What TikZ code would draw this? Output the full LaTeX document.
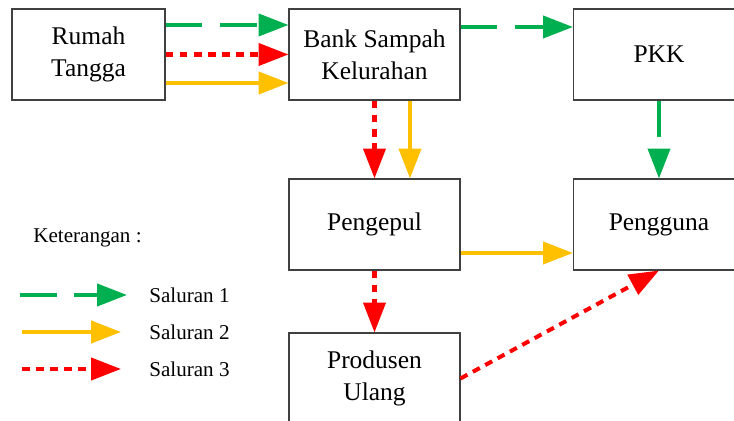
\documentclass[tikz,border=0pt]{standalone}
\usepackage{fontspec}
\setmainfont{Liberation Serif}
\usepackage{tikz}
\usetikzlibrary{arrows.meta}
\definecolor{jalur1}{RGB}{0,176,80}
\definecolor{jalur2}{RGB}{255,192,0}
\definecolor{jalur3}{RGB}{255,0,0}

\begin{document}
\begin{tikzpicture}[x=0.02cm, y=-0.02cm,
	kotak/.style={draw=black!75, line width=0.6pt, minimum width=3.42cm, minimum height=1.82cm, inner sep=0pt, align=center, font=\fontsize{14.5}{18}\selectfont},
	ket/.style={anchor=west, inner sep=0pt, font=\fontsize{12}{14}\selectfont},
	panah/.style={line width=2.3pt, -{Triangle[length=17pt,width=12.5pt]}},
	s1/.style={panah, jalur1, dash pattern=on 21pt off 10pt},
	s2/.style={panah, jalur2},
	s3/.style={panah, jalur3, dash pattern=on 4.5pt off 3.5pt}]
		\useasboundingbox (0,0) rectangle (734,421);
		\path (88.5,54.5) node[kotak, minimum width=3.06cm] (rt) {Rumah\\Tangga}
		(374.5,54.5) node[kotak] (bank) {Bank Sampah\\Kelurahan}
		(659,54.5) node[kotak] (pkk) {PKK}
		(374.5,224.5) node[kotak] (pengepul) {Pengepul}
		(659,224.5) node[kotak] (pengguna) {Pengguna}
		(374.5,378.5) node[kotak] (produsen) {Produsen\\Ulang};

		\draw[s1] ([yshift=0.59cm]rt.east) -- ([yshift=0.59cm]bank.west);
		\draw[s3] (rt.east) -- (bank.west);
		\draw[s2] ([yshift=-0.57cm]rt.east) -- ([yshift=-0.57cm]bank.west);
		\draw[s1] ([yshift=0.55cm]bank.east) -- ([yshift=0.55cm]pkk.west);
		\draw[s3] (bank.south) -- (pengepul.north);
		\draw[s2] ([xshift=0.71cm]bank.south) -- ([xshift=0.71cm]pengepul.north);
		\draw[s1] (pkk.south) -- (pengguna.north);
		\draw[s2] ([yshift=-0.57cm]pengepul.east) -- ([yshift=-0.57cm]pengguna.west);
		\draw[s3] (pengepul.south) -- (produsen.north);
		\draw[s3] (produsen.east) -- (pengguna.south);

		% keterangan
		\path (33,238) node[ket] (judul) {Keterangan :}
		(149,295) node[ket] (k1) {Saluran 1}
		(149,332) node[ket] (k2) {Saluran 2}
		(149,369) node[ket] (k3) {Saluran 3};
		\coordinate (a1) at (20,295);
		\coordinate (b1) at (127,295);
		\coordinate (a2) at (22,332);
		\coordinate (b2) at (121,332);
		\coordinate (a3) at (22,369);
		\coordinate (b3) at (121,369);
		\draw[s1] (a1) -- (b1);
		\draw[s2] (a2) -- (b2);
		\draw[s3] (a3) -- (b3);
	\end{tikzpicture}
\end{document}
